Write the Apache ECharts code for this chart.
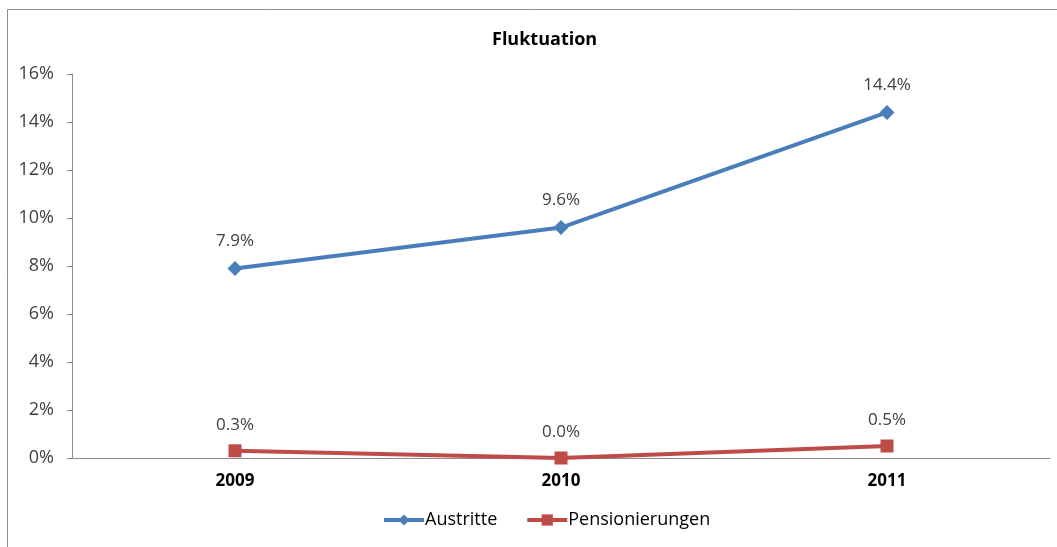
<!DOCTYPE html>
<html>
<head>
<meta charset="utf-8">
<script src="https://cdn.jsdelivr.net/npm/echarts@6/dist/echarts.min.js"></script>
<style>
  html, body { margin: 0; padding: 0; background: #fff; }
  #chart { width: 1057px; height: 547px; }
</style>
</head>
<body>
<div id="chart"></div>
<script>
// Turnover rates per year, in percent
var years = ['2009', '2010', '2011'];
var austritte = [7.9, 9.6, 14.4];
var pensionierungen = [0.3, 0.0, 0.5];
var yTicks = [0, 2, 4, 6, 8, 10, 12, 14, 16];

var font = 'Open Sans';
var chart = echarts.init(document.getElementById('chart'));

function labelStyle() {
  return {
    show: true,
    position: 'top',
    distance: 11,
    color: '#404040',
    fontFamily: font,
    fontSize: 17,
    formatter: function (p) { return p.value.toFixed(1) + '%'; }
  };
}

chart.setOption({
  animation: false,
  backgroundColor: '#fff',
  title: {
    text: 'Fluktuation',
    left: 487,
    top: 26,
    textStyle: { fontFamily: font, fontWeight: 'bold', fontSize: 18, color: '#000' }
  },
  graphic: [{
    type: 'rect',
    shape: { x: 7.5, y: 9.5, width: 1100, height: 600 },
    style: { fill: 'none', stroke: '#8c8c8c', lineWidth: 1 },
    silent: true,
    z: -1
  }],
  legend: {
    bottom: 13,
    left: 377,
    itemWidth: 40,
    itemHeight: 14,
    itemGap: 28,
    lineStyle: { width: 4 },
    textStyle: { fontFamily: font, fontSize: 18, color: '#000', padding: [0, 0, 0, -4] },
    data: ['Austritte', 'Pensionierungen']
  },
  grid: { left: 72, right: 7, top: 74, bottom: 89 },
  xAxis: {
    type: 'category',
    data: years,
    boundaryGap: true,
    axisLine: { lineStyle: { color: '#8c8c8c', width: 1 } },
    axisTick: { show: false },
    axisLabel: { fontFamily: font, fontWeight: 'bold', fontSize: 17, color: '#000', margin: 15 }
  },
  yAxis: {
    type: 'value',
    min: yTicks[0],
    max: yTicks[yTicks.length - 1],
    interval: 2,
    axisLine: { show: true, lineStyle: { color: '#8c8c8c', width: 1 } },
    axisTick: { show: true, length: 5, lineStyle: { color: '#8c8c8c' } },
    splitLine: { show: false },
    axisLabel: {
      fontFamily: font, fontSize: 18, color: '#404040', margin: 18,
      formatter: function (v) { return v + '%'; }
    }
  },
  series: [{
    name: 'Austritte',
    type: 'line',
    data: austritte,
    symbol: 'diamond',
    symbolSize: 15,
    color: '#4a7ebb',
    lineStyle: { width: 4, color: '#4a7ebb' },
    itemStyle: { color: '#4a7ebb' },
    label: labelStyle()
  }, {
    name: 'Pensionierungen',
    type: 'line',
    data: pensionierungen,
    symbol: 'rect',
    symbolSize: 13,
    color: '#be4b48',
    lineStyle: { width: 4, color: '#be4b48' },
    itemStyle: { color: '#be4b48' },
    label: labelStyle()
  }]
});
</script>
</body>
</html>
